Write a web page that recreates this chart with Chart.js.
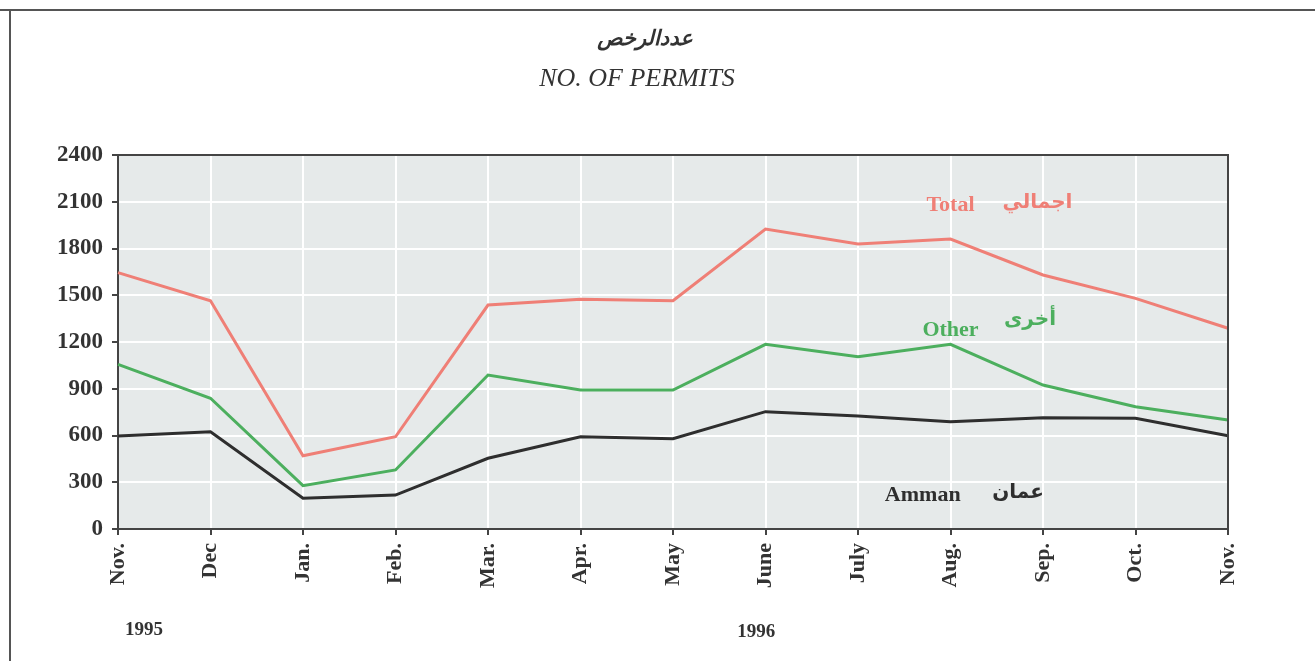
<!DOCTYPE html>
<html>
<head>
<meta charset="utf-8">
<script src="https://cdn.jsdelivr.net/npm/chart.js@4.4.0/dist/chart.umd.min.js"></script>
<style>
  body { margin: 0; background: #fff; }
  canvas { display: block; }
</style>
</head>
<body>
<canvas id="myChart" width="1315" height="661"></canvas>
<script>
// values
const months = ['Nov.', 'Dec', 'Jan.', 'Feb.', 'Mar.', 'Apr.', 'May', 'June', 'July', 'Aug.', 'Sep.', 'Oct.', 'Nov.'];
const totalPermits = [1645, 1465, 470, 592, 1437, 1474, 1465, 1925, 1829, 1861, 1630, 1480, 1288];
const otherPermits = [1057, 839, 278, 379, 988, 892, 892, 1185, 1106, 1185, 924, 785, 700];
const ammanPermits = [597, 624, 197, 218, 454, 592, 579, 753, 725, 689, 714, 710, 599];
const yTicks = [0, 300, 600, 900, 1200, 1500, 1800, 2100, 2400];
const years = ['1995', '1996'];

const serif = '"Liberation Serif", "Times New Roman", serif';
const arabic = '"DejaVu Sans", sans-serif';

// paints the page frame, plot background and all the free text
const decorations = {
    id: 'decorations',
    beforeDraw(chart) {
        const ctx = chart.ctx;
        const a = chart.chartArea;
        ctx.save();
        ctx.fillStyle = '#fff';
        ctx.fillRect(0, 0, chart.width, chart.height);
        // outer frame (top and left edge of the scanned page)
        ctx.strokeStyle = '#555';
        ctx.lineWidth = 2;
        ctx.beginPath();
        ctx.moveTo(0, 10);
        ctx.lineTo(chart.width, 10);
        ctx.moveTo(10, 10);
        ctx.lineTo(10, chart.height);
        ctx.stroke();
        // plot background
        ctx.fillStyle = '#e6eaea';
        ctx.fillRect(a.left, a.top, a.right - a.left, a.bottom - a.top);
        ctx.restore();
    },
    afterDraw(chart) {
        const ctx = chart.ctx;
        const a = chart.chartArea;
        const x = chart.scales.x;
        const y = chart.scales.y;
        ctx.save();
        // top and right border of the plot
        ctx.strokeStyle = '#444';
        ctx.lineWidth = 2;
        ctx.beginPath();
        ctx.moveTo(a.left, a.top);
        ctx.lineTo(a.right, a.top);
        ctx.lineTo(a.right, a.bottom);
        ctx.stroke();

        ctx.textAlign = 'center';
        ctx.textBaseline = 'middle';

        // titles
        ctx.fillStyle = '#333';
        ctx.font = 'italic bold 21px ' + arabic;
        ctx.fillText('عددالرخص', 645, 40);
        ctx.font = 'italic 26px ' + serif;
        ctx.fillText('NO. OF PERMITS', 637, 79);

        // series names written on the plot
        ctx.font = 'bold 22px ' + serif;
        ctx.fillStyle = '#ef7f76';
        ctx.fillText('Total', x.getPixelForValue(9), y.getPixelForValue(2079));
        ctx.fillStyle = '#4caf5e';
        ctx.fillText('Other', x.getPixelForValue(9), y.getPixelForValue(1277));
        ctx.fillStyle = '#2e2e2e';
        ctx.fillText('Amman', x.getPixelForValue(8.7), y.getPixelForValue(218));

        ctx.font = 'bold 20px ' + arabic;
        ctx.fillStyle = '#ef7f76';
        ctx.fillText('اجمالي', x.getPixelForValue(9.94), y.getPixelForValue(2092));
        ctx.fillStyle = '#4caf5e';
        ctx.fillText('أخرى', x.getPixelForValue(9.86), y.getPixelForValue(1341));
        ctx.fillStyle = '#2e2e2e';
        ctx.fillText('عمان', x.getPixelForValue(9.73), y.getPixelForValue(231));

        // years under the month labels
        ctx.font = 'bold 19px ' + serif;
        ctx.fillStyle = '#333';
        ctx.fillText(years[0], x.getPixelForValue(0.28), a.bottom + 101);
        ctx.fillText(years[1], x.getPixelForValue(6.9), a.bottom + 103);
        ctx.restore();
    }
};

const ctx = document.getElementById('myChart').getContext('2d');

const myChart = new Chart(ctx, {
    type: 'line',
    data: {
        labels: months,
        datasets: [{
            label: 'Total',
            data: totalPermits,
            borderColor: '#ef7f76',
            borderWidth: 3
        },
        {
            label: 'Other',
            data: otherPermits,
            borderColor: '#4caf5e',
            borderWidth: 3
        },
        {
            label: 'Amman',
            data: ammanPermits,
            borderColor: '#2e2e2e',
            borderWidth: 3
        }]
    },
    options: {
        responsive: false,
        animation: false,
        events: [],
        elements: {
            point: { radius: 0 },
            line: { tension: 0, fill: false }
        },
        layout: {
            padding: { top: 155, right: 87, left: 0, bottom: 0 }
        },
        plugins: {
            legend: { display: false },
            title: { display: false },
            tooltip: { enabled: false }
        },
        scales: {
            x: {
                offset: false,
                afterFit: (scale) => { scale.height = 132; },
                grid: { color: '#fff', lineWidth: 2, tickColor: '#444', tickLength: 6 },
                border: { color: '#444', width: 2 },
                ticks: {
                    autoSkip: false,
                    maxRotation: 90,
                    minRotation: 90,
                    padding: 8,
                    color: '#333',
                    font: { family: serif, size: 22, weight: 'bold' }
                }
            },
            y: {
                min: 0,
                max: 2400,
                afterFit: (scale) => { scale.width = 118; },
                afterBuildTicks: (scale) => { scale.ticks = yTicks.map(v => ({ value: v })); },
                grid: { color: '#fff', lineWidth: 2, tickColor: '#444', tickLength: 6 },
                border: { color: '#444', width: 2 },
                ticks: {
                    padding: 9,
                    color: '#333',
                    font: { family: serif, size: 23, weight: 'bold' },
                    callback: (value) => String(value)
                }
            }
        }
    },
    plugins: [decorations]
});
</script>
</body>
</html>
